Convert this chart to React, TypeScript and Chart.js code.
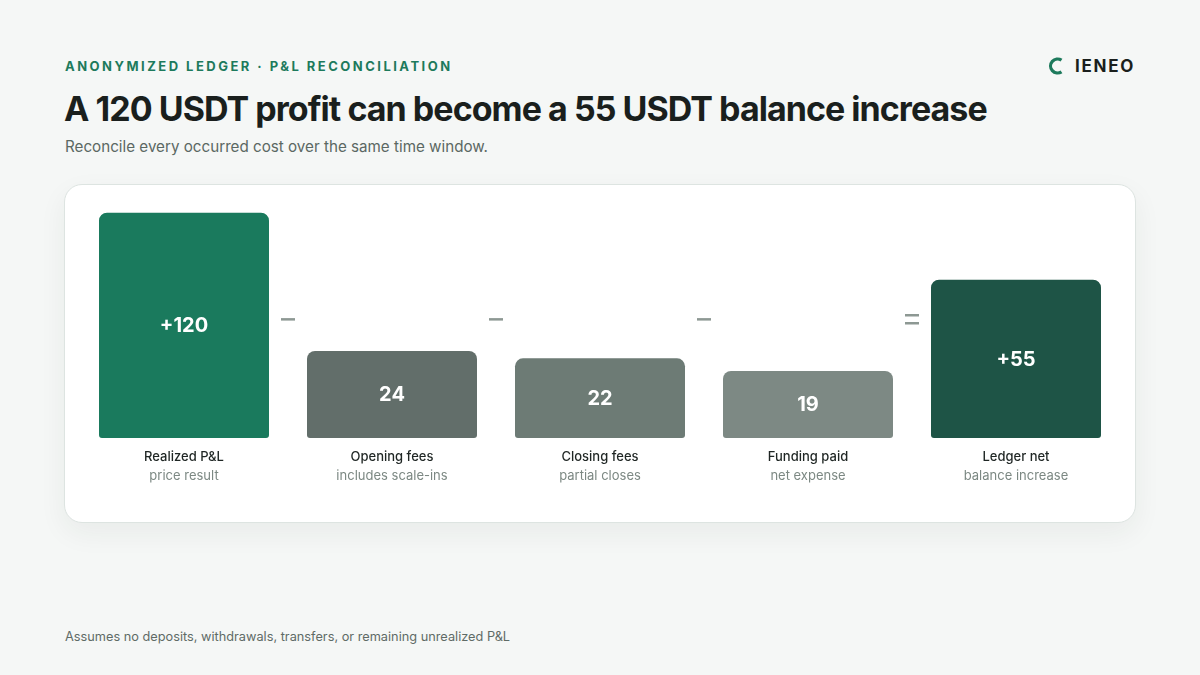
import React, { useEffect, useRef } from 'react';
import { Chart, registerables } from 'chart.js';

Chart.register(...registerables);

const categories = ['Realized P&L', 'Opening fees', 'Closing fees', 'Funding paid', 'Ledger net'];
const subLabels = ['price result', 'includes scale-ins', 'partial closes', 'net expense', 'balance increase'];
const values = [120, 24, 22, 19, 55];
const valueLabels = ['+120', '24', '22', '19', '+55'];
const operators = ['−', '−', '−', '='];
const barColors = ['#1a7a5d', '#626e6a', '#6d7b75', '#7d8984', '#1e5446'];

const FONT = 'Inter, "Noto Sans", sans-serif';

const annotatePlugin = {
  id: 'annotate',
  afterDatasetsDraw(chart: any) {
    const ctx = chart.ctx;
    const meta = chart.getDatasetMeta(0);
    const area = chart.chartArea;
    ctx.save();
    ctx.textAlign = 'center';
    ctx.textBaseline = 'middle';
    meta.data.forEach((bar: any, i: number) => {
      const { x, y, base } = bar.getProps(['x', 'y', 'base'], true);
      ctx.fillStyle = '#ffffff';
      ctx.font = `700 20px ${FONT}`;
      ctx.fillText(valueLabels[i], x, (y + base) / 2 + 1);
      ctx.fillStyle = '#1f2624';
      ctx.font = `500 13px ${FONT}`;
      ctx.fillText(categories[i], x, area.bottom + 19);
      ctx.fillStyle = '#7c8883';
      ctx.font = `400 13px ${FONT}`;
      ctx.fillText(subLabels[i], x, area.bottom + 38);
    });
    const opY = area.top + (area.bottom - area.top) * 0.475;
    ctx.strokeStyle = '#8d9893';
    ctx.lineWidth = 2.5;
    operators.forEach((op, i) => {
      const a = meta.data[i].x;
      const b = meta.data[i + 1].x;
      const xm = (a + b) / 2;
      ctx.beginPath();
      if (op === '=') {
        ctx.moveTo(xm - 7, opY - 4);
        ctx.lineTo(xm + 7, opY - 4);
        ctx.moveTo(xm - 7, opY + 4);
        ctx.lineTo(xm + 7, opY + 4);
      } else {
        ctx.moveTo(xm - 7, opY);
        ctx.lineTo(xm + 7, opY);
      }
      ctx.stroke();
    });
    ctx.restore();
  },
};

function BarsChart() {
  const ref = useRef<HTMLCanvasElement | null>(null);
  useEffect(() => {
    if (!ref.current) return;
    const chart = new Chart(ref.current, {
      type: 'bar',
      data: {
        labels: categories,
        datasets: [
          {
            data: values,
            backgroundColor: barColors,
            borderRadius: { topLeft: 8, topRight: 8, bottomLeft: 3, bottomRight: 3 },
            borderSkipped: false,
            barPercentage: 170 / 208,
            categoryPercentage: 1,
          },
        ],
      },
      options: {
        animation: false,
        responsive: false,
        maintainAspectRatio: false,
        layout: { padding: { left: 15, right: 15, top: 27, bottom: 84 } },
        plugins: { legend: { display: false }, tooltip: { enabled: false } },
        scales: {
          x: { display: false },
          y: { type: 'logarithmic', display: false, min: 8.7, max: 121, bounds: 'data' },
        },
      },
      plugins: [annotatePlugin],
    } as any);
    return () => chart.destroy();
  }, []);
  return <canvas ref={ref} width={1070} height={337} style={{ display: 'block', width: 1070, height: 337 }} />;
}

export default function App() {
  return (
    <div
      style={{
        position: 'fixed',
        left: 0,
        top: 0,
        width: 1200,
        height: 675,
        background: '#f5f7f6',
        fontFamily: FONT,
        overflow: 'hidden',
      }}
    >
      <div
        style={{
          position: 'absolute',
          left: 65,
          top: 58,
          fontSize: 13,
          fontWeight: 700,
          letterSpacing: 2.48,
          color: '#1d7a5c',
          lineHeight: '16px',
          whiteSpace: 'nowrap',
        }}
      >
        ANONYMIZED LEDGER · P&amp;L RECONCILIATION
      </div>
      <div
        style={{
          position: 'absolute',
          left: 64,
          top: 88,
          fontSize: 34,
          fontWeight: 700,
          letterSpacing: -0.96,
          color: '#1a1f1d',
          lineHeight: '42px',
          whiteSpace: 'nowrap',
        }}
      >
        A 120 USDT profit can become a 55 USDT balance increase
      </div>
      <div
        style={{
          position: 'absolute',
          left: 65,
          top: 137,
          fontSize: 15.2,
          fontWeight: 400,
          color: '#5b6863',
          lineHeight: '20px',
          whiteSpace: 'nowrap',
        }}
      >
        Reconcile every occurred cost over the same time window.
      </div>
      <div style={{ position: 'absolute', left: 1048, top: 56, display: 'flex', alignItems: 'center' }}>
        <svg width="16" height="20" viewBox="0 0 16 20">
          <path d="M13.5 4.2 A7 7 0 1 0 13.5 15.8" fill="none" stroke="#1d7a5c" strokeWidth="3.2" strokeLinecap="butt" />
        </svg>
        <span
          style={{
            marginLeft: 11,
            fontSize: 17,
            fontWeight: 700,
            letterSpacing: 1.7,
            color: '#1a1f1d',
            lineHeight: '20px',
          }}
        >
          IENEO
        </span>
      </div>
      <div
        style={{
          position: 'absolute',
          left: 64,
          top: 184,
          width: 1072,
          height: 339,
          boxSizing: 'border-box',
          border: '1px solid #dde4e1',
          borderRadius: 18,
          background: '#ffffff',
          boxShadow: '0 10px 28px rgba(30, 50, 40, 0.06)',
          overflow: 'hidden',
        }}
      >
        <BarsChart />
      </div>
      <div
        style={{
          position: 'absolute',
          left: 65,
          top: 629,
          fontSize: 12.75,
          color: '#5f6b66',
          lineHeight: '16px',
          whiteSpace: 'nowrap',
        }}
      >
        Assumes no deposits, withdrawals, transfers, or remaining unrealized P&amp;L
      </div>
    </div>
  );
}
